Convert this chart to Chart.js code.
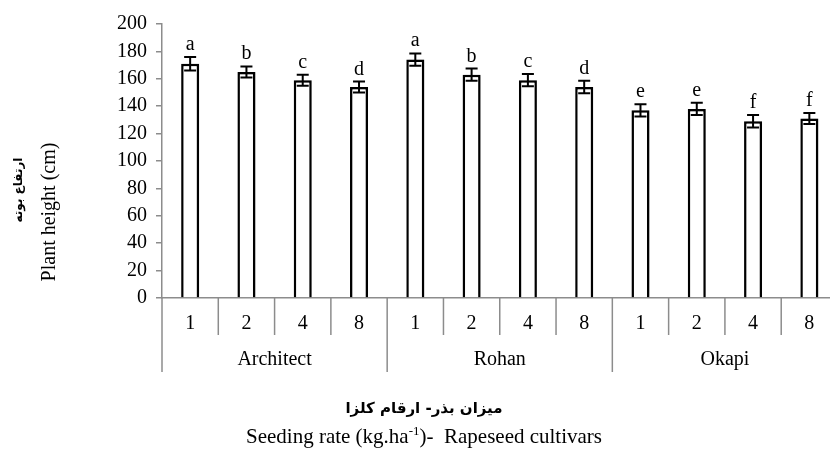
<!DOCTYPE html>
<html>
<head>
<meta charset="utf-8">
<script src="https://cdn.jsdelivr.net/npm/chart.js@4/dist/chart.umd.min.js"></script>
<style>
    html, body { margin: 0; padding: 0; background: #fff; overflow: hidden; }
    #wrap { width: 840px; height: 452px; }
</style>
</head>
<body>
<div id="wrap"><canvas id="heightChart" width="840" height="452"></canvas></div>
<script>
(function(){
    "use strict";

    // Data
    const cultivars = ['Architect', 'Rohan', 'Okapi'];
    const seedingRates = ['1', '2', '4', '8'];
    const plantHeight = [171, 165, 159, 154, 174, 163, 159, 154, 137, 138, 129, 131];
    const heightError = [5, 4, 4, 4, 4.5, 4.5, 4.5, 4.5, 4.5, 4.5, 4.5, 4];
    const meanLetters = ['a', 'b', 'c', 'd', 'a', 'b', 'c', 'd', 'e', 'e', 'f', 'f'];
    const yTicks = [0, 20, 40, 60, 80, 100, 120, 140, 160, 180, 200];

    const serif = '"Liberation Serif", "Times New Roman", serif';
    const axisGray = '#8c8c8c';

    // one label per bar: seeding rate repeated per cultivar
    const labels = [];
    cultivars.forEach(() => seedingRates.forEach(r => labels.push(r)));

    /**
     * Draws error bars, letters, the grouped x axis and the axis titles.
    */
    const decorations = {
        id: 'decorations',
        afterDatasetsDraw(chart) {
            const ctx = chart.ctx;
            const x = chart.scales.x;
            const y = chart.scales.y;
            ctx.save();
            ctx.strokeStyle = '#000';
            ctx.lineWidth = 2;
            ctx.fillStyle = '#000';
            ctx.font = '20px ' + serif;
            ctx.textAlign = 'center';
            ctx.textBaseline = 'alphabetic';
            plantHeight.forEach((v, i) => {
                const px = x.getPixelForValue(i);
                const top = y.getPixelForValue(v + heightError[i]);
                const bot = y.getPixelForValue(v - heightError[i]);
                ctx.beginPath();
                ctx.moveTo(px, top); ctx.lineTo(px, bot);
                ctx.moveTo(px - 6, top); ctx.lineTo(px + 6, top);
                ctx.moveTo(px - 6, bot); ctx.lineTo(px + 6, bot);
                ctx.stroke();
                ctx.fillText(meanLetters[i], px, top - 7);
            });
            ctx.restore();
        },
        afterDraw(chart) {
            const ctx = chart.ctx;
            const x = chart.scales.x;
            const half = (x.getPixelForValue(1) - x.getPixelForValue(0)) / 2;
            const axisY = x.top;
            ctx.save();
            ctx.strokeStyle = axisGray;
            ctx.lineWidth = 1.5;
            for (let i = 0; i <= labels.length; i++) {
                const bx = i < labels.length ? x.getPixelForValue(i) - half : x.getPixelForValue(i - 1) + half;
                const len = i % seedingRates.length === 0 ? 74 : 37;
                ctx.beginPath();
                ctx.moveTo(bx, axisY);
                ctx.lineTo(bx, axisY + len);
                ctx.stroke();
            }

            ctx.fillStyle = '#000';
            ctx.font = '20px ' + serif;
            ctx.textAlign = 'center';
            ctx.textBaseline = 'middle';
            cultivars.forEach((c, g) => {
                const first = x.getPixelForValue(g * seedingRates.length);
                const last = x.getPixelForValue(g * seedingRates.length + seedingRates.length - 1);
                ctx.fillText(c, (first + last) / 2, axisY + 62);
            });

            // x axis titles
            const cx = 424;
            ctx.font = 'bold 15px "DejaVu Sans", sans-serif';
            ctx.fillText('میزان بذر- ارقام کلزا', cx, 409);

            ctx.font = '21px ' + serif;
            const partA = 'Seeding rate (kg.ha';
            const sup = '-1';
            const partB = ')-  Rapeseed cultivars';
            const wA = ctx.measureText(partA).width;
            const wB = ctx.measureText(partB).width;
            ctx.font = '13px ' + serif;
            const wS = ctx.measureText(sup).width;
            let sx = cx - (wA + wS + wB) / 2;
            ctx.textAlign = 'left';
            ctx.textBaseline = 'alphabetic';
            ctx.font = '21px ' + serif;
            ctx.fillText(partA, sx, 443);
            sx += wA;
            ctx.font = '13px ' + serif;
            ctx.fillText(sup, sx, 435);
            sx += wS;
            ctx.font = '21px ' + serif;
            ctx.fillText(partB, sx, 443);

            // y axis titles
            ctx.textAlign = 'center';
            ctx.textBaseline = 'middle';
            ctx.save();
            ctx.translate(50, 212);
            ctx.rotate(-Math.PI / 2);
            ctx.font = '20px ' + serif;
            ctx.fillText('Plant height (cm)', 0, 0);
            ctx.restore();
            ctx.save();
            ctx.translate(19, 190);
            ctx.rotate(-Math.PI / 2);
            ctx.font = 'bold 12px "DejaVu Sans", sans-serif';
            ctx.fillText('ارتفاع بوته', 0, 0);
            ctx.restore();
            ctx.restore();
        }
    };

    // soft shadow behind bars, like the original figure
    const barShadow = {
        id: 'barShadow',
        beforeDatasetsDraw(chart) {
            chart.ctx.save();
            chart.ctx.shadowColor = 'rgba(0,0,0,0.25)';
            chart.ctx.shadowBlur = 3;
            chart.ctx.shadowOffsetX = 2;
            chart.ctx.shadowOffsetY = 0;
        },
        afterDatasetsDraw(chart) {
            chart.ctx.restore();
        }
    };

    const ctx = document.getElementById('heightChart').getContext('2d');
    new Chart(ctx, {
        type: 'bar',
        data: {
            labels: labels,
            datasets: [{
                data: plantHeight,
                backgroundColor: '#ffffff',
                borderColor: '#000000',
                borderWidth: 2.5,
                barPercentage: 0.32,
                categoryPercentage: 1
            }]
        },
        options: {
            responsive: false,
            animation: false,
            events: [],
            layout: { padding: { top: 24, right: 2.5, left: 0, bottom: 0 } },
            plugins: {
                legend: { display: false },
                tooltip: { enabled: false }
            },
            scales: {
                x: {
                    afterFit: (scale) => { scale.height = 154; },
                    grid: { drawOnChartArea: false, drawTicks: false },
                    border: { color: axisGray, width: 1.5 },
                    ticks: {
                        color: '#000',
                        padding: 14,
                        maxRotation: 0,
                        font: { family: serif, size: 20 }
                    }
                },
                y: {
                    min: 0,
                    max: 200,
                    afterFit: (scale) => { scale.width = 162; },
                    afterBuildTicks: (scale) => { scale.ticks = yTicks.map(v => ({ value: v })); },
                    grid: { drawOnChartArea: false, tickLength: 6, color: axisGray, lineWidth: 1.5 },
                    border: { color: axisGray, width: 1.5 },
                    ticks: {
                        color: '#000',
                        padding: 9,
                        font: { family: serif, size: 20 }
                    }
                }
            }
        },
        plugins: [barShadow, decorations]
    });
})();
</script>
</body>
</html>
